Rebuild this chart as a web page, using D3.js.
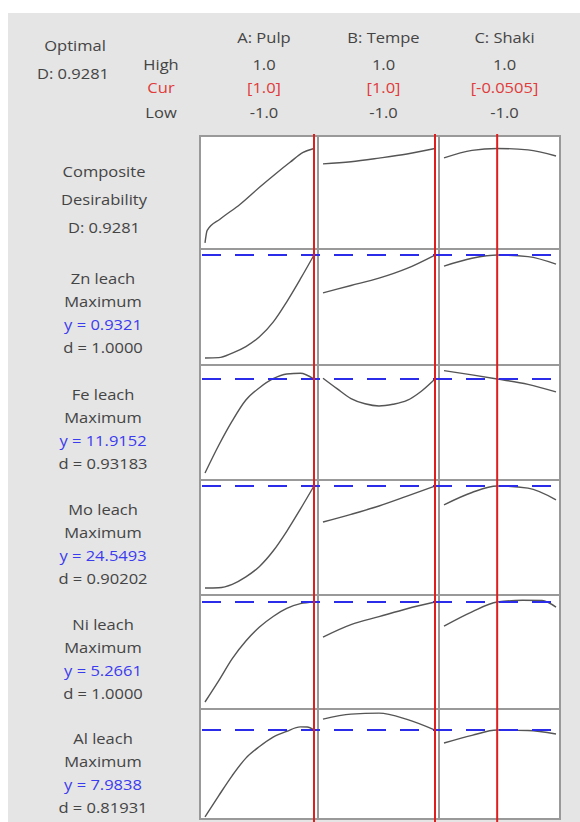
<!DOCTYPE html>
<html lang="en">
<head>
    <meta charset="UTF-8">
    <title>Response Optimizer</title>
    <script src="https://d3js.org/d3.v7.min.js"></script>
    <style>
        body { margin: 0; background: #fff; }
        text { font-family: "Open Sans", "Noto Sans", sans-serif; font-size: 14px; fill: #444; }
        .red { fill: #e03a3a; }
        .blue { fill: #3b3bef; }
    </style>
</head>
<body>
    <svg id="chart" width="580" height="822"></svg>

    <script>
        // factor settings
        const factorNames = ["A: Pulp", "B: Tempe", "C: Shaki"];
        const highLabels = ["1.0", "1.0", "1.0"];
        const curLabels = ["[1.0]", "[1.0]", "[-0.0505]"];
        const lowLabels = ["-1.0", "-1.0", "-1.0"];
        const curSettings = [1.0, 1.0, -0.0505];
        const optimalLabel = "D: 0.9281";

        // responses
        const responseNames = ["Zn leach", "Fe leach", "Mo leach", "Ni leach", "Al leach"];
        const goals = ["Maximum", "Maximum", "Maximum", "Maximum", "Maximum"];
        const predicted = [0.9321, 11.9152, 24.5493, 5.2661, 7.9838];
        const predictedLabels = ["y = 0.9321", "y = 11.9152", "y = 24.5493", "y = 5.2661", "y = 7.9838"];
        const desirLabels = ["d = 1.0000", "d = 0.93183", "d = 0.90202", "d = 1.0000", "d = 0.81931"];

        // y domain of each row (composite first)
        const yDomains = [[0, 1], [0.30, 0.9321], [2.0, 12.76], [8.0, 24.5493], [1.0, 5.31], [2.34, 9.02]];

        // curves [factor setting, response]
        const compA = [[-1, 0.02], [-0.96, 0.14], [-0.72, 0.25], [-0.36, 0.39], [0, 0.555], [0.32, 0.695], [0.56, 0.795], [0.8, 0.89], [1, 0.9281]];
        const compB = [[-1, 0.78], [-0.5, 0.80], [0, 0.835], [0.5, 0.875], [1, 0.9281]];
        const compC = [[-1, 0.837], [-0.5, 0.91], [-0.05, 0.9281], [0.5, 0.915], [1, 0.856]];

        const znA = [[-1, 0.30], [-0.75, 0.302], [-0.5, 0.33], [-0.25, 0.37], [0, 0.43], [0.25, 0.52], [0.5, 0.645], [0.75, 0.785], [1, 0.9321]];
        const znB = [[-1, 0.70], [-0.5, 0.745], [0, 0.79], [0.5, 0.85], [1, 0.9321]];
        const znC = [[-1, 0.864], [-0.5, 0.912], [-0.05, 0.9321], [0.5, 0.922], [1, 0.876]];

        const feA = [[-1, 2.0], [-0.75, 4.9], [-0.5, 7.5], [-0.25, 9.7], [0, 11.0], [0.25, 11.95], [0.5, 12.45], [0.75, 12.52], [1, 11.9152]];
        const feB = [[-1, 12.0], [-0.75, 10.9], [-0.5, 9.85], [-0.25, 9.3], [0, 9.07], [0.25, 9.25], [0.5, 9.65], [0.75, 10.6], [1, 11.9152]];
        const feC = [[-1, 12.8], [-0.5, 12.35], [-0.05, 11.9152], [0.5, 11.35], [1, 10.55]];

        const moA = [[-1, 8.0], [-0.75, 8.05], [-0.5, 8.6], [-0.25, 9.8], [0, 11.5], [0.25, 14.0], [0.5, 17.2], [0.75, 20.8], [1, 24.5493]];
        const moB = [[-1, 18.7], [-0.5, 19.95], [0, 21.3], [0.5, 22.9], [1, 24.5493]];
        const moC = [[-1, 21.5], [-0.5, 23.5], [-0.05, 24.5493], [0.5, 24.2], [1, 22.3]];

        const niA = [[-1, 1.0], [-0.75, 1.9], [-0.5, 2.85], [-0.25, 3.6], [0, 4.2], [0.25, 4.65], [0.5, 5.0], [0.75, 5.2], [1, 5.2661]];
        const niB = [[-1, 3.77], [-0.5, 4.3], [0, 4.64], [0.5, 4.98], [1, 5.2661]];
        const niC = [[-1, 4.24], [-0.5, 4.85], [-0.05, 5.2661], [0.4, 5.34], [0.75, 5.33], [1, 5.05]];

        const alA = [[-1, 2.0], [-0.75, 3.45], [-0.5, 4.85], [-0.25, 6.05], [0, 6.85], [0.25, 7.5], [0.5, 7.9], [0.75, 8.2], [0.875, 8.19], [1, 7.9838]];
        const alB = [[-1, 8.74], [-0.5, 9.08], [0, 9.15], [0.5, 8.72], [1, 7.9838]];
        const alC = [[-1, 7.09], [-0.5, 7.62], [-0.05, 7.9838], [0.5, 7.95], [1, 7.71]];

        const curves = [
            [compA, compB, compC],
            [znA, znB, znC],
            [feA, feB, feC],
            [moA, moB, moC],
            [niA, niB, niC],
            [alA, alB, alC]
        ];

        // layout
        const colX = [200, 318, 439, 560];
        const rowY = [136, 249, 365, 480, 595, 709, 819];

        const svg = d3.select("#chart");

        svg.append("rect")
            .attr("x", 8).attr("y", 13)
            .attr("width", 580).attr("height", 822)
            .attr("fill", "#e5e5e5");

        const xScales = factorNames.map((f, j) =>
            d3.scaleLinear().domain([-1, 1]).range([colX[j] + 5, colX[j + 1] - 4]));

        const yScales = yDomains.map((dom, i) => {
            const pad = i === 0 ? [4, 5] : [7, 6];
            return d3.scaleLinear().domain(dom).range([rowY[i + 1] - pad[0], rowY[i] + pad[1]]);
        });

        // the reference lettering is a little wider than Open Sans
        function addText(g, x, y, str, cls) {
            return g.append("text")
                .attr("transform", `translate(${x},${y}) scale(1.18,1)`)
                .attr("text-anchor", "middle")
                .attr("class", cls || null)
                .text(str);
        }

        // header
        const colMid = j => (colX[j] + colX[j + 1]) / 2 + 5;
        const header = svg.append("g");
        addText(header, 75, 51, "Optimal");
        addText(header, 73, 79, optimalLabel);
        addText(header, 161, 70, "High");
        addText(header, 161, 93, "Cur", "red");
        addText(header, 161, 118, "Low");

        factorNames.forEach((f, j) => {
            addText(header, colMid(j), 43, f);
            addText(header, colMid(j), 70, highLabels[j]);
            addText(header, colMid(j), 93, curLabels[j], "red");
            addText(header, colMid(j), 118, lowLabels[j]);
        });

        // row labels
        const labels = svg.append("g");
        ["Composite", "Desirability", optimalLabel].forEach((t, k) => {
            addText(labels, 104, 177 + k * 28, t);
        });
        responseNames.forEach((name, i) => {
            const top = rowY[i + 1];
            const lines = [name, goals[i], predictedLabels[i], desirLabels[i]];
            lines.forEach((t, k) => {
                addText(labels, 103, top + 35 + k * 23, t, k === 2 ? "blue" : null);
            });
        });

        // panels
        const panels = svg.append("g");
        curves.forEach((row, i) => {
            row.forEach((pts, j) => {
                panels.append("rect")
                    .attr("x", colX[j]).attr("y", rowY[i])
                    .attr("width", colX[j + 1] - colX[j])
                    .attr("height", rowY[i + 1] - rowY[i])
                    .attr("fill", "#fff")
                    .attr("stroke", "#999")
                    .attr("stroke-width", 2);
            });
        });

        // curves
        curves.forEach((row, i) => {
            row.forEach((pts, j) => {
                const line = d3.line()
                    .x(d => xScales[j](d[0]))
                    .y(d => yScales[i](d[1]))
                    .curve(d3.curveMonotoneX);
                svg.append("path")
                    .attr("d", line(pts))
                    .attr("fill", "none")
                    .attr("stroke", "#555")
                    .attr("stroke-width", 1.4);
            });
        });

        // predicted response lines
        predicted.forEach((v, i) => {
            const y = yScales[i + 1](v);
            svg.append("line")
                .attr("x1", colX[0] + 2).attr("x2", colX[3])
                .attr("y1", y).attr("y2", y)
                .attr("stroke", "#2b2bea")
                .attr("stroke-width", 2)
                .attr("stroke-dasharray", "19,14");
        });

        // current settings
        curSettings.forEach((v, j) => {
            const x = xScales[j](v);
            svg.append("line")
                .attr("x1", x).attr("x2", x)
                .attr("y1", rowY[0] - 2).attr("y2", 822)
                .attr("stroke", "#e01e1e")
                .attr("stroke-width", 2);
        });
    </script>
</body>
</html>
